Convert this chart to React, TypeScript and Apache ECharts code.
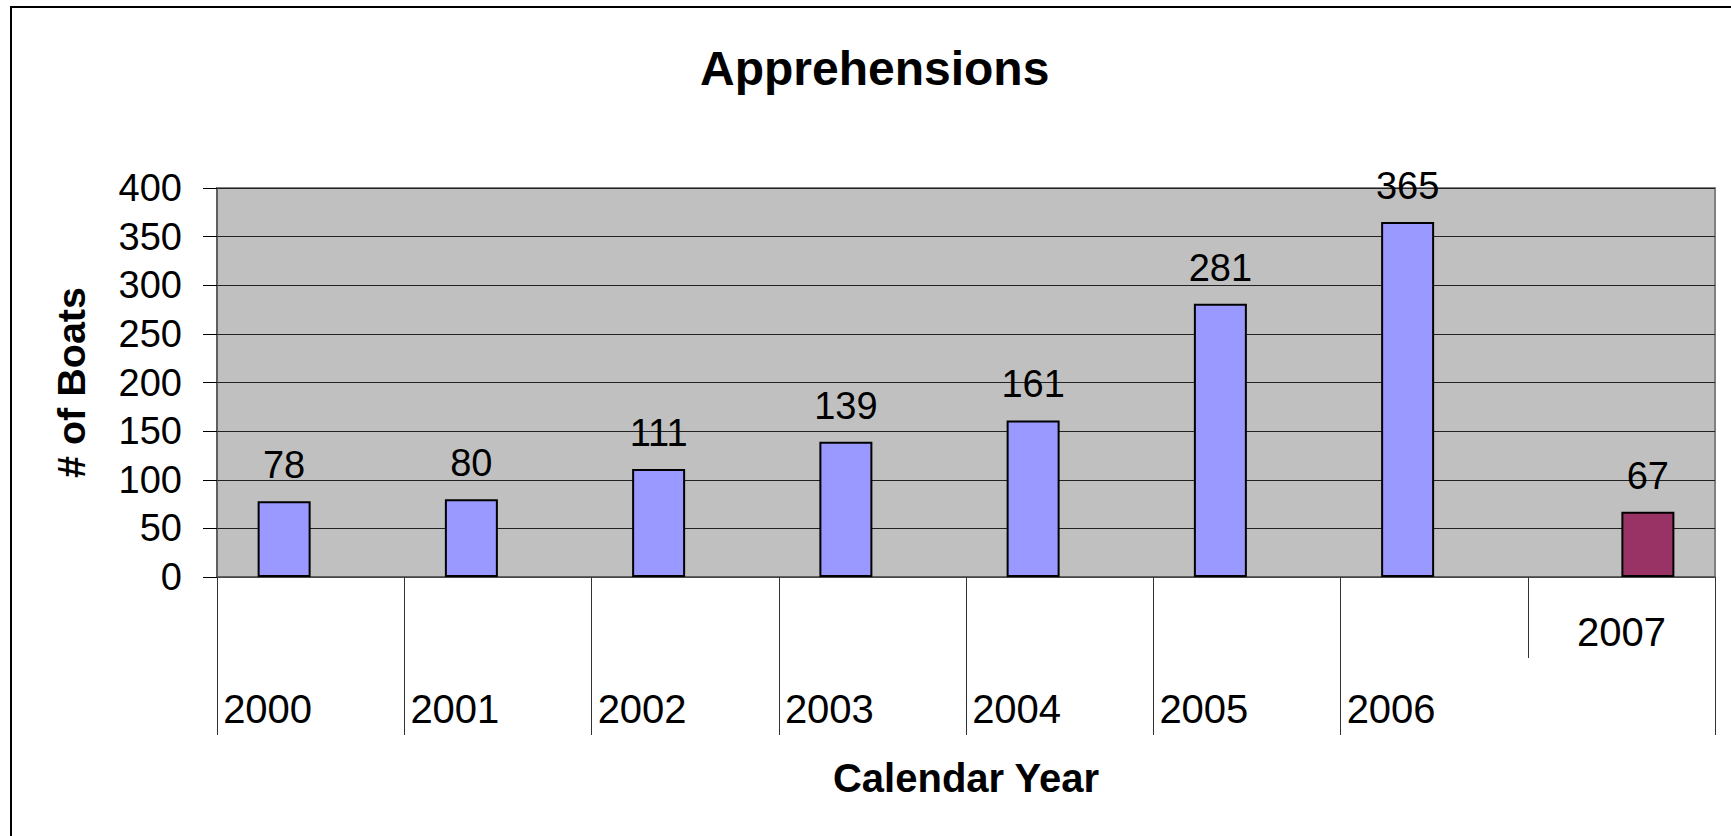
import React, { useEffect, useRef } from "react";
import * as echarts from "echarts";

const years = ["2000", "2001", "2002", "2003", "2004", "2005", "2006", "2007"];
const pastValues = [78, 80, 111, 139, 161, 281, 365, null];
const currentValues = [null, null, null, null, null, null, null, 67];
const yTicks = { min: 0, max: 400, interval: 50 };

const FONT = '"Liberation Sans", Arial, sans-serif';

export default function App() {
  const ref = useRef<HTMLDivElement>(null);
  useEffect(() => {
    if (!ref.current) return;
    const chart = echarts.init(ref.current, null, { renderer: "svg" });
    const lastIdx = years.length - 1;
    const labelStyle = { fontSize: 38, fontFamily: FONT, color: "#000" };
    const catStyle = { fontSize: 40, fontFamily: FONT, color: "#000" };
    chart.setOption({
      animation: false,
      backgroundColor: "#fff",
      textStyle: { fontFamily: FONT },
      title: {
        text: "Apprehensions",
        left: 695,
        top: 39,
        textStyle: { fontSize: 48, fontWeight: "bold", fontFamily: FONT, color: "#000" },
      },
      graphic: [
        {
          type: "rect",
          z: -10,
          silent: true,
          shape: { x: 11, y: 7, width: 1800, height: 900 },
          style: { fill: "none", stroke: "#000", lineWidth: 2 },
        },
      ],
      grid: {
        left: 217,
        top: 188,
        width: 1498,
        height: 389,
        show: true,
        backgroundColor: "#C0C0C0",
        borderColor: "#808080",
        borderWidth: 2,
        containLabel: false,
      },
      xAxis: [
        {
          type: "category",
          data: years,
          position: "bottom",
          boundaryGap: true,
          name: "Calendar Year",
          nameLocation: "middle",
          nameGap: 181,
          nameTextStyle: { fontSize: 40, fontWeight: "bold", fontFamily: FONT, color: "#000" },
          axisLine: { show: true, lineStyle: { color: "#555", width: 1.5 } },
          axisTick: {
            show: true,
            length: 158,
            interval: (i: number) => i !== lastIdx,
            lineStyle: { color: "#333", width: 1 },
          },
          axisLabel: {
            ...catStyle,
            interval: (i: number) => i !== lastIdx,
            margin: 112,
            formatter: (v: string) => `{lo|${v}}`,
            rich: { lo: { ...catStyle, width: 175, align: "left" } },
          },
          splitLine: { show: false },
        },
        {
          type: "category",
          data: years,
          position: "bottom",
          boundaryGap: true,
          axisLine: { show: false },
          axisTick: {
            show: true,
            length: 81,
            interval: (i: number) => i === 0 || i === lastIdx,
            lineStyle: { color: "#333", width: 1 },
          },
          axisLabel: {
            ...catStyle,
            interval: (i: number) => i === lastIdx,
            margin: 35,
          },
          splitLine: { show: false },
        },
      ],
      yAxis: {
        type: "value",
        min: yTicks.min,
        max: yTicks.max,
        interval: yTicks.interval,
        name: "# of Boats",
        nameLocation: "middle",
        nameRotate: 90,
        nameGap: 126,
        nameTextStyle: { fontSize: 39.5, fontWeight: "bold", fontFamily: FONT, color: "#000" },
        axisLine: { show: true, lineStyle: { color: "#555", width: 1.5 } },
        axisTick: { show: true, inside: false, length: 14, lineStyle: { color: "#000", width: 1 } },
        axisLabel: { ...labelStyle, margin: 35 },
        splitLine: { show: true, lineStyle: { color: "#222", width: 1 } },
      },
      series: [
        {
          name: "Past years",
          type: "bar",
          data: pastValues,
          barWidth: 53,
          barGap: "0%",
          itemStyle: { color: "#9999FF", borderColor: "#000", borderWidth: 2 },
          label: { show: true, position: "top", distance: 17, ...labelStyle },
        },
        {
          name: "Current year",
          type: "bar",
          data: currentValues,
          barWidth: 53,
          barGap: "0%",
          itemStyle: { color: "#993366", borderColor: "#000", borderWidth: 2 },
          label: { show: true, position: "top", distance: 17, ...labelStyle },
        },
      ],
    });
    return () => chart.dispose();
  }, []);
  return (
    <div
      ref={ref}
      style={{ position: "fixed", left: 0, top: 0, width: "1731px", height: "836px" }}
    />
  );
}
